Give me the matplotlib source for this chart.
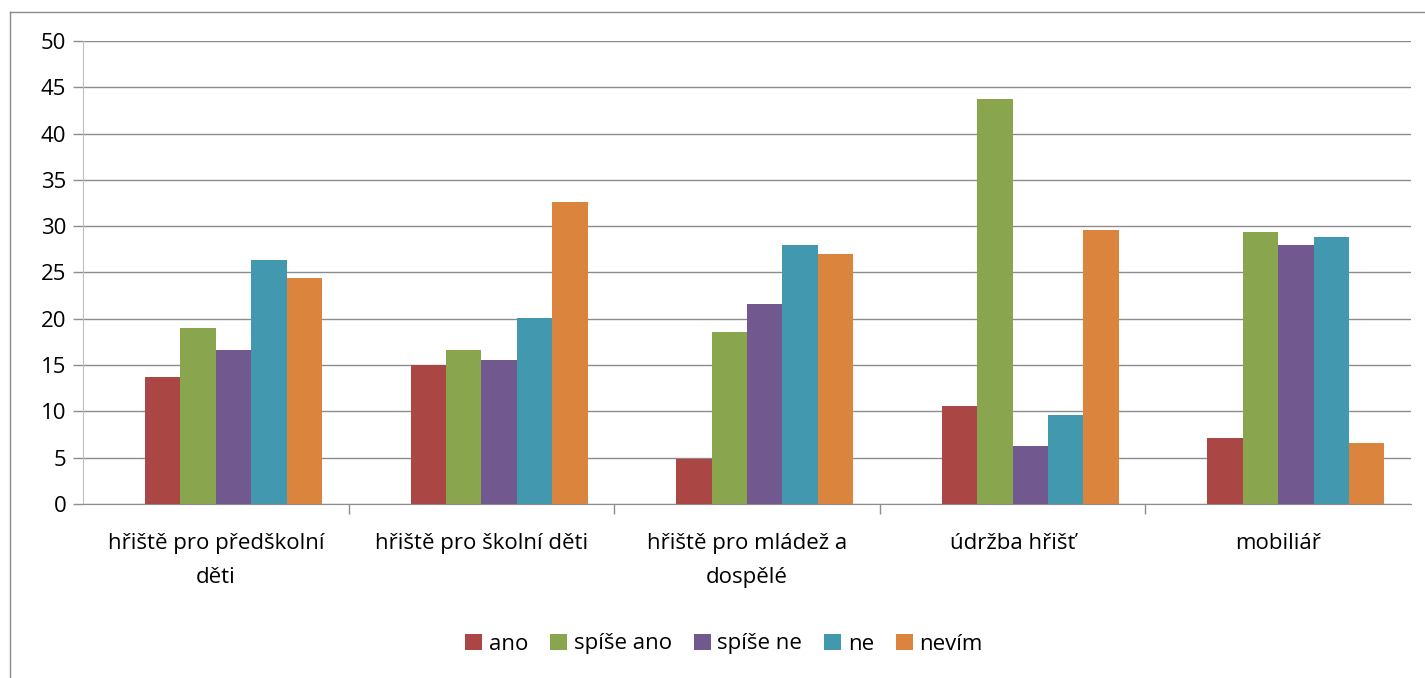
import numpy as np
import matplotlib.pyplot as plt
from matplotlib.lines import Line2D

plt.rcParams['font.family'] = ['Open Sans', 'DejaVu Sans']

kategorie = ['hřiště pro předškolní\nděti', 'hřiště pro školní děti',
             'hřiště pro mládež a\ndospělé', 'údržba hřišť', 'mobiliář']
serie = ['ano', 'spíše ano', 'spíše ne', 'ne', 'nevím']
ano = [13.7, 15.0, 4.9, 10.6, 7.1]
spise_ano = [19.0, 16.6, 18.6, 43.7, 29.4]
spise_ne = [16.6, 15.55, 21.6, 6.3, 28.0]
ne = [26.35, 20.1, 28.0, 9.6, 28.8]
nevim = [24.4, 32.6, 27.0, 29.6, 6.6]
barvy = ['#AA4643', '#89A54E', '#71588F', '#4198AF', '#DB843D']

hodnoty = [ano, spise_ano, spise_ne, ne, nevim]

fig = plt.figure(figsize=(14.25, 6.78), dpi=100)
ax = fig.add_axes([83/1425, 174/678, 1328/1425, 463/678])

x = np.arange(len(kategorie))
# excel: 6 slotu (prvni prazdny), mezera 150 %
sirka = 1 / (6 + 1.5)
for i, (s, h, c) in enumerate(zip(serie, hodnoty, barvy)):
    pos = x + (i + 1 - 2.5) * sirka
    ax.bar(pos, h, width=sirka, color=c, label=s, zorder=3)

ax.set_xlim(-0.5, len(kategorie) - 0.5)
ax.set_ylim(0, 50)
ax.set_yticks(range(0, 51, 5))
ax.grid(axis='y', color='#8C8C8C', linewidth=1, zorder=0)

ax.set_xticks(x)
ax.set_xticklabels(kategorie, fontsize=16, linespacing=1.8)
ax.set_xticks(np.arange(0.5, len(kategorie) - 0.5, 1), minor=True)
ax.tick_params(axis='x', which='major', length=0, pad=21)
ax.tick_params(axis='x', which='minor', length=7, color='#8C8C8C', width=1)
ax.tick_params(axis='y', length=7, color='#8C8C8C', width=1, labelsize=16, pad=5)

for sp in ['top', 'right']:
    ax.spines[sp].set_visible(False)
ax.spines['left'].set_color('#BFBFBF')
ax.spines['bottom'].set_color('#8C8C8C')
ax.spines['bottom'].set_zorder(4)

leg = fig.legend(loc='center', bbox_to_anchor=(724/1425, 1 - 644/678), ncol=5,
                 frameon=False, fontsize=16, handlelength=0.75, handleheight=0.75,
                 handletextpad=0.3, columnspacing=1.0)

# ramecek grafu
fig.add_artist(Line2D([10/1425, 1], [1 - 12/678, 1 - 12/678], color='#8C8C8C', lw=1))
fig.add_artist(Line2D([10/1425, 10/1425], [0, 1 - 12/678], color='#8C8C8C', lw=1))

fig.savefig('out.png', dpi=100)
